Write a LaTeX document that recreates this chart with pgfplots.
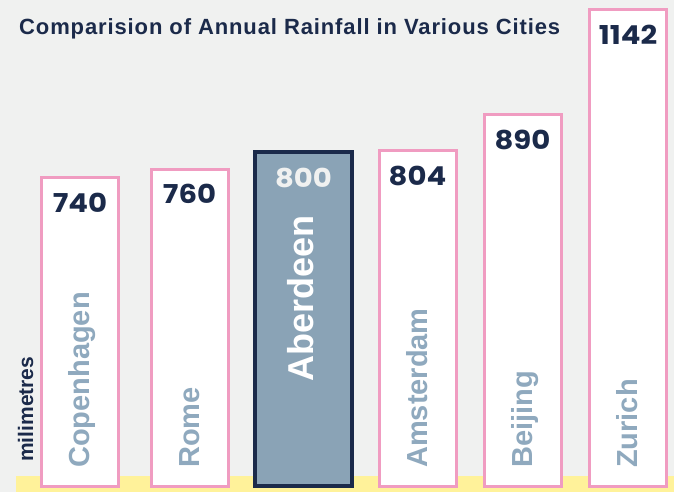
\documentclass[border=0pt]{standalone}
\usepackage{fontspec}
\usepackage{pgfplots}
\pgfplotsset{compat=1.18}
\setmainfont{Liberation Sans}
\newfontfamily\titlefont[LetterSpace=4]{Liberation Sans}
\newfontfamily\valfont[FakeStretch=1.12]{Poppins}
\definecolor{bg}{HTML}{F0F1F0}
\definecolor{pinkb}{HTML}{F09CC1}
\definecolor{navy}{HTML}{1B2A4A}
\definecolor{steel}{HTML}{8AA3B6}
\definecolor{lab}{HTML}{8FA9BE}
\definecolor{yel}{HTML}{FFF29A}
\begin{document}
\begin{tikzpicture}
\begin{axis}[
  scale only axis, width=674pt, height=492pt,
  xmin=0, xmax=674, ymin=-13.2, ymax=1164.7,
  hide axis, clip=false,
]
\fill[bg] (rel axis cs:0,0) rectangle (rel axis cs:1,1);
\fill[yel] (axis cs:16,-13.2) rectangle (axis cs:674,25.1);
% normal bars
\addplot[ybar, bar width=77pt, bar shift=0pt, draw=pinkb, line width=3pt, fill=white,
  nodes near coords, point meta=explicit symbolic,
  nodes near coords style={anchor=north, yshift=-14pt, inner sep=0pt, font=\valfont\bfseries\fontsize{26}{26}\selectfont, text=navy}]
  table[meta=v] {
x y v
80 740 740
189.5 760 760
417.5 804 804
522.5 890 890
628 1142 1142
};
% highlighted bar
\addplot[ybar, bar width=97pt, bar shift=0pt, draw=navy, line width=4pt, fill=steel,
  nodes near coords, point meta=explicit symbolic,
  nodes near coords style={anchor=north, yshift=-13.5pt, inner sep=0pt, font=\valfont\bfseries\fontsize{26}{26}\selectfont, text=bg}]
  table[meta=v] {
x y v
303.5 800 800
};
% category labels
\addplot[draw=none, mark=none, nodes near coords, point meta=explicit symbolic,
  nodes near coords style={rotate=90, anchor=base west, inner sep=0pt, font=\bfseries\fontsize{29}{29}\selectfont, text=lab}]
  table[meta=c] {
x y c
89.5 44.3 Copenhagen
199 44.3 Rome
427 44.3 Amsterdam
532 44.3 Beijing
637.5 44.3 Zurich
};
\addplot[draw=none, mark=none, nodes near coords, point meta=explicit symbolic,
  nodes near coords style={rotate=90, anchor=base west, inner sep=0pt, font=\bfseries\fontsize{36}{36}\selectfont, text=white}]
  table[meta=c] {
x y c
313 250.2 Aberdeen
};
\node[rotate=90, anchor=base west, inner sep=0pt, font=\bfseries\fontsize{21}{21}\selectfont, text=navy] at (axis cs:33,58.7) {milimetres};
\node[anchor=base west, inner sep=0pt, font=\titlefont\bfseries\fontsize{22}{22}\selectfont, text=navy] at (axis cs:19,1080.9) {Comparision of Annual Rainfall in Various Cities};
\end{axis}
\end{tikzpicture}
\end{document}
